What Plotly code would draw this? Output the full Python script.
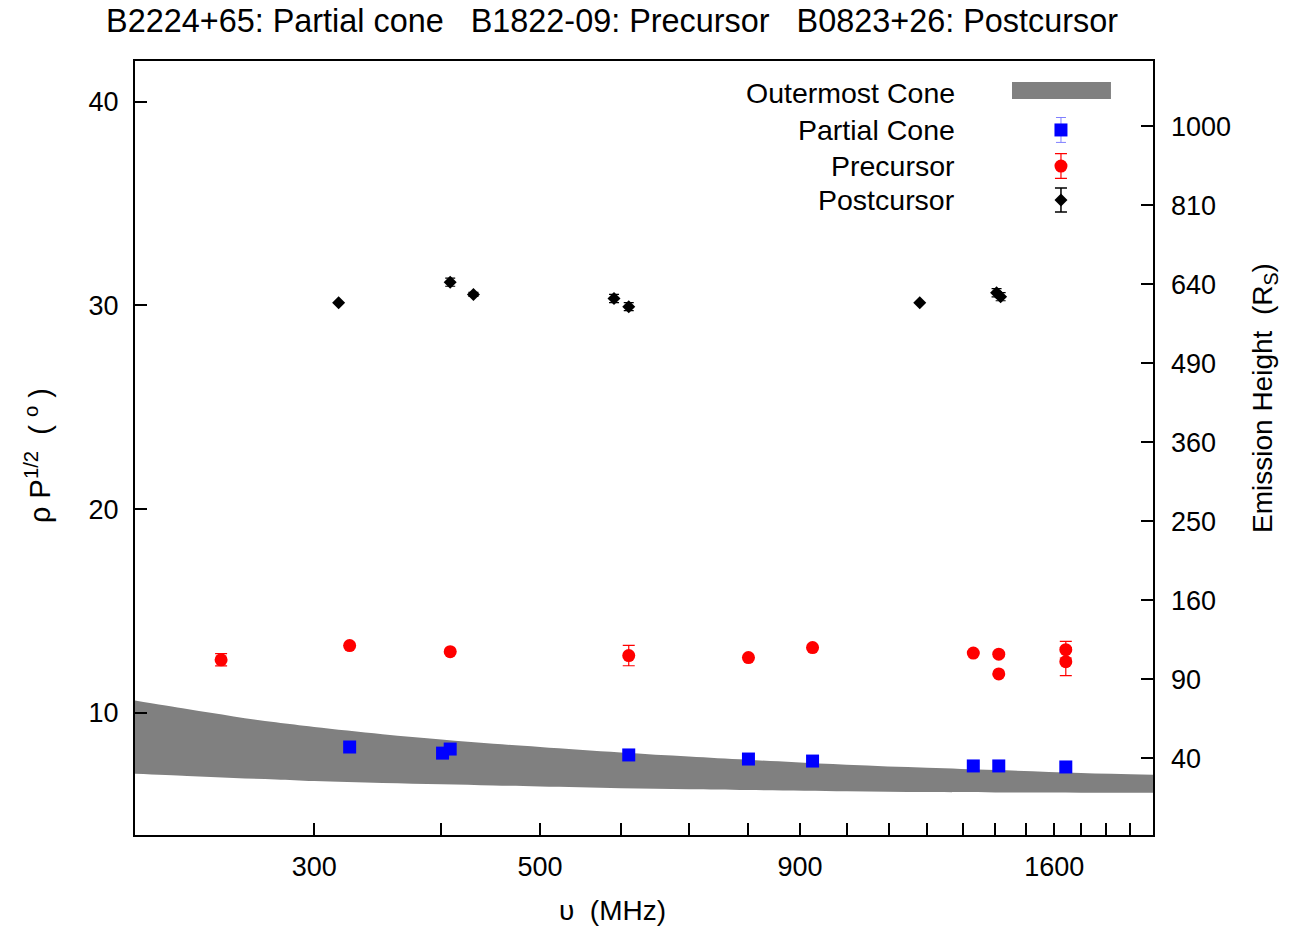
import numpy as np
import plotly.graph_objects as go

# outermost cone band
cone_freq = [200, 225, 250, 275, 300, 350, 400, 450, 500, 600, 700, 800, 1000, 1200, 1400, 1700, 2000]
cone_upper = [10.60, 10.18, 9.82, 9.53, 9.30, 8.95, 8.69, 8.48, 8.32, 8.05, 7.85, 7.69, 7.45, 7.30, 7.19, 7.05, 6.96]
cone_lower = [7.01, 6.90, 6.80, 6.73, 6.65, 6.55, 6.49, 6.43, 6.38, 6.30, 6.25, 6.21, 6.15, 6.11, 6.09, 6.08, 6.07]

# B2224+65 partial cone
partial_freq = [325, 401, 408, 611, 801, 926, 1332, 1411, 1642]
partial_val = [8.32, 8.02, 8.22, 7.93, 7.73, 7.63, 7.39, 7.39, 7.34]

# B1822-09 precursor
pre_freq = [243, 325, 408, 611, 801, 926, 1332, 1411, 1411, 1642, 1642]
pre_val = [12.60, 13.30, 13.00, 12.81, 12.71, 13.20, 12.93, 12.88, 11.91, 13.10, 12.51]
pre_err = [0.30, 0, 0, 0.50, 0, 0, 0, 0, 0, 0.41, 0.69]

# B0823+26 postcursor
post_freq = [317, 408, 430, 591, 611, 1180, 1404, 1417]
post_val = [30.13, 31.14, 30.54, 30.34, 29.94, 30.13, 30.62, 30.43]
post_err = [0, 0.2, 0.1, 0.2, 0.2, 0, 0.2, 0.2]

x_ticks = list(range(300, 2000, 100))
x_labels = ["300", "500", "900", "1600"]
y_ticks = [10, 20, 30, 40]
height_ticks = [40, 90, 160, 250, 360, 490, 640, 810, 1000]

legend_names = ["Outermost Cone", "Partial Cone", "Precursor", "Postcursor"]

FONT = "Liberation Sans, Arial, sans-serif"
W, H = 1292, 921  # the page body adds 8px round the figure

fig = go.Figure()

fig.add_trace(go.Scatter(x=cone_freq, y=cone_lower, mode="lines",
                         line=dict(width=0, color="#808080", shape="spline"),
                         showlegend=False, hoverinfo="skip"))
fig.add_trace(go.Scatter(x=cone_freq, y=cone_upper, mode="lines",
                         line=dict(width=0, color="#808080", shape="spline"),
                         fill="tonexty", fillcolor="#808080",
                         showlegend=False, hoverinfo="skip"))

fig.add_trace(go.Scatter(x=partial_freq, y=partial_val, mode="markers",
                         marker=dict(symbol="square", size=13, color="#0000ff"),
                         showlegend=False))
fig.add_trace(go.Scatter(x=pre_freq, y=pre_val, mode="markers",
                         marker=dict(symbol="circle", size=13, color="#ff0000"),
                         error_y=dict(type="data", array=pre_err, color="#ff0000",
                                      thickness=1.2, width=6),
                         showlegend=False))
fig.add_trace(go.Scatter(x=post_freq, y=post_val, mode="markers",
                         marker=dict(symbol="diamond", size=10, color="#000000"),
                         error_y=dict(type="data", array=post_err, color="#000000",
                                      thickness=1.2, width=5),
                         showlegend=False))

# empty trace so the right-hand axis gets drawn
fig.add_trace(go.Scatter(x=[None], y=[None], yaxis="y2", mode="markers",
                         showlegend=False, hoverinfo="skip"))

# hand-made key, gnuplot style (text left, sample on the right)
key_y = [0.9587, 0.9109, 0.8643, 0.8204]
key_x = 0.9096
fig.add_shape(type="rect", xref="paper", yref="paper",
              x0=0.8615, x1=0.9587, y0=0.9509, y1=0.9729,
              fillcolor="#808080", line=dict(width=0))
fig.add_trace(go.Scatter(x=[key_x], y=[key_y[1]], xaxis="x2", yaxis="y3",
                         mode="markers",
                         marker=dict(symbol="square", size=13, color="#0000ff"),
                         error_y=dict(type="constant", value=0.0161, color="#8080ff",
                                      thickness=1, width=5),
                         showlegend=False, hoverinfo="skip"))
fig.add_trace(go.Scatter(x=[key_x], y=[key_y[2]], xaxis="x2", yaxis="y3",
                         mode="markers",
                         marker=dict(symbol="circle", size=13, color="#ff0000"),
                         error_y=dict(type="constant", value=0.016, color="#ff0000",
                                      thickness=1.2, width=6),
                         showlegend=False, hoverinfo="skip"))
fig.add_trace(go.Scatter(x=[key_x], y=[key_y[3]], xaxis="x2", yaxis="y3",
                         mode="markers",
                         marker=dict(symbol="diamond", size=10, color="#000000"),
                         error_y=dict(type="constant", value=0.0155, color="#000000",
                                      thickness=1.5, width=6),
                         showlegend=False, hoverinfo="skip"))
for name, yy in zip(legend_names, key_y):
    fig.add_annotation(x=0.8075, y=yy, xref="paper", yref="paper",
                       text=name, showarrow=False, xanchor="right", yanchor="middle",
                       font=dict(family=FONT, size=28.5, color="black"))

# axis titles placed like gnuplot does (not centred on the plot box)
fig.add_annotation(x=0.4686, y=-0.0969, xref="paper", yref="paper",
                   text="υ  (MHz)", showarrow=False,
                   xanchor="center", yanchor="middle",
                   font=dict(family=FONT, size=28, color="black"))
fig.add_annotation(x=-0.0953, y=0.491, xref="paper", yref="paper",
                   text="ρ P<sup>1/2</sup>  ( <sup>o</sup> )", showarrow=False,
                   textangle=-90, xanchor="center", yanchor="middle",
                   font=dict(family=FONT, size=29, color="black"))
fig.add_annotation(x=1.110, y=0.5646, xref="paper", yref="paper",
                   text="Emission Height  (R<sub>S</sub>)", showarrow=False,
                   textangle=-90, xanchor="center", yanchor="middle",
                   font=dict(family=FONT, size=28, color="black"))

axis_common = dict(showgrid=False, zeroline=False, ticks="inside", ticklen=12,
                   tickwidth=1.5, tickcolor="black", automargin=False,
                   tickfont=dict(family=FONT, size=27, color="black"))

fig.update_layout(
    width=W, height=H,
    margin=dict(l=127, r=147, t=53, b=94),
    paper_bgcolor="white", plot_bgcolor="white",
    font=dict(family=FONT, color="black"),
    title=dict(text="B2224+65: Partial cone   B1822-09: Precursor   B0823+26: Postcursor",
               x=0.4686, xref="paper", xanchor="center",
               y=1 - 13 / H, yref="container", yanchor="middle",
               font=dict(family=FONT, size=32.4, color="black")),
    xaxis=dict(type="log", range=[np.log10(200), np.log10(2000)],
               tickmode="array", tickvals=x_ticks,
               ticktext=[str(v) if str(v) in x_labels else "" for v in x_ticks],
               showline=True, linewidth=2, linecolor="black", mirror=True,
               ticklabelstandoff=7,
               **axis_common),
    yaxis=dict(range=[4, 42], tickmode="array", tickvals=y_ticks,
               showline=True, linewidth=2, linecolor="black", mirror=True,
               ticklabelstandoff=9,
               **axis_common),
    yaxis2=dict(overlaying="y", side="right", range=[4, 42], tickmode="array",
                tickvals=[1.227 * np.sqrt(h) for h in height_ticks],
                ticktext=[str(h) for h in height_ticks],
                showline=False, ticklabelstandoff=17,
                **axis_common),
    xaxis2=dict(overlaying="x", range=[0, 1], visible=False),
    yaxis3=dict(overlaying="y", range=[0, 1], visible=False),
)

fig.write_html("out.html")
